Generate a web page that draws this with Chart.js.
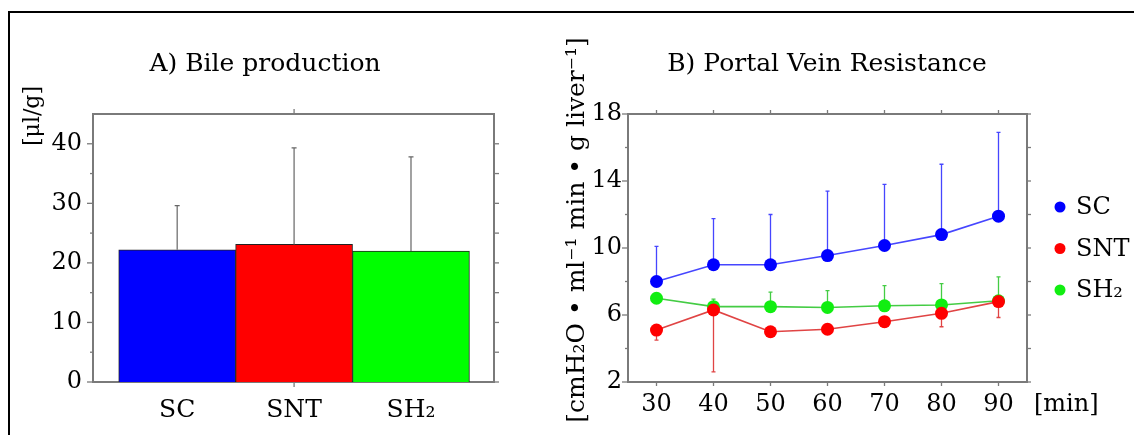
<!DOCTYPE html>
<html>
<head>
<meta charset="utf-8">
<script src="https://cdn.jsdelivr.net/npm/chart.js@4"></script>
<style>
  html, body { margin: 0; padding: 0; background: #fff; }
  body { width: 1134px; height: 435px; position: relative; overflow: hidden; }
  #frame { position: absolute; left: 8px; top: 11px; width: 1140px; height: 440px;
           border-top: 2px solid #000; border-left: 2px solid #000; }
  .panel { position: absolute; top: 0; height: 435px; }
  #panelA { left: 0; width: 560px; }
  #panelB { left: 540px; width: 594px; }
</style>
</head>
<body>
<div id="frame"></div>
<div class="panel" id="panelA"><canvas id="bile" width="560" height="435"></canvas></div>
<div class="panel" id="panelB"><canvas id="pvr" width="594" height="435"></canvas></div>
<script>
const FONT = '"DejaVu Serif", "Liberation Serif", serif';

// A) Bile production [µl/g], mean + SD
const bileGroups = ['SC', 'SNT', 'SH₂'];
const bileMean = [22.2, 23.1, 22.0];
const bileSD = [7.4, 16.2, 15.8];
const bileColors = ['#0000ff', '#ff0000', '#00ff00'];
const bileYTicks = [0, 10, 20, 30, 40];
const bileYMinor = [5, 15, 25, 35];

// B) Portal vein resistance over time, mean ± SD
const pvrGroups = ['SC', 'SNT', 'SH₂'];
const minutes = [30, 40, 50, 60, 70, 80, 90];
const scMean  = [8.0, 9.0, 9.0, 9.55, 10.15, 10.8, 11.9];
const scSD    = [2.1, 2.75, 3.0, 3.85, 3.65, 4.2, 5.0];
const sntMean = [5.1, 6.3, 5.0, 5.15, 5.6, 6.1, 6.8];
const sntSD   = [0.6, 3.7, 0.2, 0.25, 0.3, 0.8, 0.95];
const sh2Mean = [7.0, 6.5, 6.5, 6.45, 6.55, 6.6, 6.85];
const sh2SD   = [0.1, 0.45, 0.87, 1.0, 1.2, 1.27, 1.43];
const pvrYTicks = [2, 6, 10, 14, 18];
const pvrYMinor = [4, 8, 12, 16];

// Box frame with outward tick marks on all four sides
const framePlugin = {
  id: 'frame',
  beforeDatasetsDraw(chart, args, o) {
    const { ctx, chartArea: a } = chart;
    const x = chart.scales.x, y = chart.scales.y;
    ctx.save();
    ctx.strokeStyle = o.color;
    ctx.lineWidth = o.lineWidth;
    ctx.strokeRect(a.left, a.top, a.right - a.left, a.bottom - a.top);
    ctx.lineWidth = o.tickWidth;
    const seg = (x1, y1, x2, y2) => { ctx.beginPath(); ctx.moveTo(x1, y1); ctx.lineTo(x2, y2); ctx.stroke(); };
    o.yMajor.forEach(v => {
      const p = y.getPixelForValue(v);
      seg(a.left - o.majorLen, p, a.left, p);
      seg(a.right, p, a.right + o.rightLen, p);
    });
    o.yMinor.forEach(v => {
      const p = y.getPixelForValue(v);
      seg(a.left - o.minorLen, p, a.left, p);
      seg(a.right, p, a.right + o.rightLen, p);
    });
    o.xMarks.forEach(v => {
      const p = x.getPixelForValue(v);
      seg(p, a.top - o.xLen, p, a.top);
      seg(p, a.bottom, p, a.bottom + o.xLen);
    });
    ctx.restore();
  }
};

// One-sided SD whiskers with a short cap
function drawErrorBars(chart, o) {
  const { ctx } = chart;
  const y = chart.scales.y;
  ctx.save();
  ctx.lineWidth = o.lineWidth;
  chart.data.datasets.forEach((ds, i) => {
    const meta = chart.getDatasetMeta(i);
    meta.data.forEach((el, j) => {
      const mean = meta.controller.getParsed(j).y;
      const end = y.getPixelForValue(mean + ds.errorDir * ds.errors[j]);
      ctx.strokeStyle = o.color || ds.borderColor;
      ctx.beginPath();
      ctx.moveTo(el.x, el.y);
      ctx.lineTo(el.x, end);
      ctx.moveTo(el.x - o.cap, end);
      ctx.lineTo(el.x + o.cap, end);
      ctx.stroke();
    });
  });
  ctx.restore();
}
const errorBarsPlugin = {
  id: 'errorBars',
  beforeDatasetsDraw(chart, args, o) { if (o.behind) drawErrorBars(chart, o); },
  afterDatasetsDraw(chart, args, o) { if (!o.behind) drawErrorBars(chart, o); }
};

// Free text: panel headings, axis units
const labelsPlugin = {
  id: 'labels',
  afterDraw(chart, args, o) {
    const { ctx } = chart;
    o.items.forEach(it => {
      ctx.save();
      ctx.font = it.font;
      ctx.fillStyle = '#000';
      ctx.textAlign = it.align || 'center';
      ctx.textBaseline = it.baseline || 'middle';
      ctx.translate(it.x, it.y);
      if (it.rotate) ctx.rotate(it.rotate);
      ctx.fillText(it.text, 0, 0);
      ctx.restore();
    });
  }
};

// Dot legend to the right of the plot
const dotLegendPlugin = {
  id: 'dotLegend',
  afterDraw(chart, args, o) {
    const { ctx } = chart;
    ctx.save();
    ctx.font = o.font;
    ctx.textBaseline = 'middle';
    ctx.textAlign = 'left';
    chart.data.datasets.forEach((ds, i) => {
      const cy = o.top + i * o.spacing;
      ctx.fillStyle = ds.pointBackgroundColor;
      ctx.beginPath();
      ctx.arc(o.x, cy, o.radius, 0, Math.PI * 2);
      ctx.fill();
      ctx.fillStyle = '#000';
      ctx.fillText(ds.label, o.x + o.gap, cy + 1);
    });
    ctx.restore();
  }
};

Chart.defaults.font.family = FONT;
Chart.defaults.color = '#000';

new Chart(document.getElementById('bile'), {
  type: 'bar',
  data: {
    datasets: [{
      data: bileMean.map((m, i) => ({ x: i + 1, y: m })),
      errors: bileSD,
      errorDir: 1,
      backgroundColor: bileColors,
      borderColor: '#222',
      borderWidth: 1,
      barPercentage: 1,
      categoryPercentage: 1
    }]
  },
  options: {
    responsive: false,
    animation: false,
    devicePixelRatio: 1,
    layout: { padding: { top: 114, right: 66, left: 0, bottom: 0 } },
    plugins: {
      legend: { display: false },
      tooltip: { enabled: false },
      frame: { color: '#7a7a7a', lineWidth: 2, tickWidth: 1.3, majorLen: 6, minorLen: 3, rightLen: 5,
               xLen: 5, yMajor: bileYTicks, yMinor: bileYMinor, xMarks: [2] },
      errorBars: { behind: false, color: '#666', lineWidth: 1.2, cap: 2.5 },
      labels: { items: [
        { text: 'A) Bile production', x: 265, y: 71, font: '25px ' + FONT, baseline: 'alphabetic' },
        { text: '[μl/g]', x: 33, y: 116, font: '22px ' + FONT, rotate: -Math.PI / 2 }
      ] }
    },
    scales: {
      x: {
        type: 'linear', min: 0.28, max: 3.71, offset: false,
        afterBuildTicks: s => { s.ticks = bileGroups.map((g, i) => ({ value: i + 1 })); },
        afterFit: s => { s.height = 53; },
        grid: { display: false, drawTicks: false, offset: false },
        border: { display: false },
        ticks: { font: { size: 25 }, padding: 13, maxRotation: 0, autoSkip: false,
                 callback: v => bileGroups[v - 1] }
      },
      y: {
        min: 0, max: 45,
        afterBuildTicks: s => { s.ticks = bileYTicks.map(v => ({ value: v })); },
        afterFit: s => { s.width = 93; },
        grid: { display: false, drawTicks: false },
        border: { display: false },
        ticks: { font: { size: 24 }, padding: 11 }
      }
    }
  },
  plugins: [framePlugin, errorBarsPlugin, labelsPlugin]
});

const pvrSeries = [
  { mean: scMean,  sd: scSD,  dir: 1,  point: '#0000ff', line: '#4646ff' },
  { mean: sntMean, sd: sntSD, dir: -1, point: '#ff0000', line: '#e04444' },
  { mean: sh2Mean, sd: sh2SD, dir: 1,  point: '#11ee11', line: '#44cc44' }
];

new Chart(document.getElementById('pvr'), {
  type: 'line',
  data: {
    datasets: pvrSeries.map((s, k) => ({
      label: pvrGroups[k],
      data: minutes.map((m, i) => ({ x: m, y: s.mean[i] })),
      errors: s.sd,
      errorDir: s.dir,
      borderColor: s.line,
      borderWidth: 1.6,
      pointBackgroundColor: s.point,
      pointBorderWidth: 0,
      pointRadius: 6.5,
      tension: 0,
      fill: false
    }))
  },
  options: {
    responsive: false,
    animation: false,
    devicePixelRatio: 1,
    layout: { padding: { top: 114, right: 107, left: 0, bottom: 0 } },
    plugins: {
      legend: { display: false },
      tooltip: { enabled: false },
      frame: { color: '#7a7a7a', lineWidth: 2, tickWidth: 1.3, majorLen: 6, minorLen: 3, rightLen: 4,
               xLen: 4, yMajor: pvrYTicks, yMinor: pvrYMinor, xMarks: minutes },
      errorBars: { behind: true, lineWidth: 1.3, cap: 2 },
      dotLegend: { x: 520, top: 207, spacing: 41.5, radius: 5.5, gap: 16, font: '24px ' + FONT },
      labels: { items: [
        { text: 'B) Portal Vein Resistance', x: 287, y: 71, font: '25px ' + FONT, baseline: 'alphabetic' },
        { text: '[cmH₂O • ml⁻¹ min • g liver⁻¹]', x: 37, y: 230, font: '25px ' + FONT, rotate: -Math.PI / 2 },
        { text: '[min]', x: 494, y: 405, font: '24px ' + FONT, align: 'left' }
      ] }
    },
    scales: {
      x: {
        type: 'linear', min: 25, max: 95,
        afterBuildTicks: s => { s.ticks = minutes.map(v => ({ value: v })); },
        afterFit: s => { s.height = 53; },
        grid: { display: false, drawTicks: false },
        border: { display: false },
        ticks: { font: { size: 24 }, padding: 8, maxRotation: 0, autoSkip: false }
      },
      y: {
        min: 2, max: 18,
        afterBuildTicks: s => { s.ticks = pvrYTicks.map(v => ({ value: v })); },
        afterFit: s => { s.width = 88; },
        grid: { display: false, drawTicks: false },
        border: { display: false },
        ticks: { font: { size: 24 }, padding: 6 }
      }
    }
  },
  plugins: [framePlugin, errorBarsPlugin, labelsPlugin, dotLegendPlugin]
});
</script>
</body>
</html>
